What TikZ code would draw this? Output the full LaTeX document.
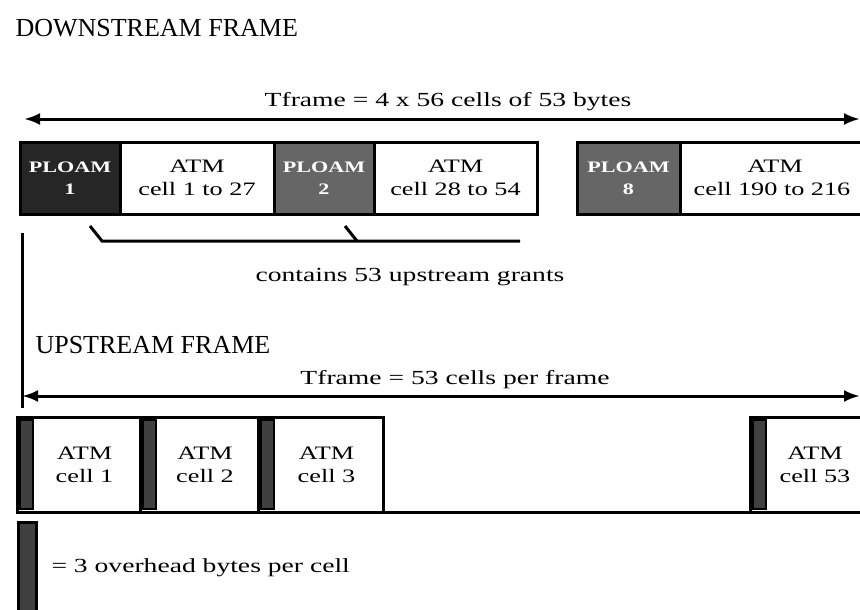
\documentclass[tikz,border=0pt]{standalone}
\usepackage{fontspec}
\setmainfont{Liberation Serif}
\newfontfamily\anchafont[FakeStretch=1.38]{Liberation Serif}
\usetikzlibrary{arrows.meta, positioning}
\tikzset{
  titulo/.style={anchor=west, font=\fontsize{26}{28}\selectfont},
  etiq/.style={font=\anchafont\fontsize{20}{22}\selectfont},
  celda/.style={rectangle, draw=black, line width=3pt, fill=white, outer sep=0pt,
    align=center, inner sep=0pt, font=\anchafont\fontsize{19}{23}\selectfont},
  celdab/.style={celda, minimum height=72pt},
  celdas/.style={celda, minimum height=95pt},
  ploam/.style={celdab, fill=black!60, text=white, minimum width=100pt,
    font=\anchafont\fontsize{16}{22}\selectfont\bfseries},
  barra/.style={rectangle, draw=black, line width=2.5pt, fill=black!75, outer sep=0pt,
    inner sep=0pt, minimum width=13pt, minimum height=89pt},
  flecha/.style={{Latex[length=16pt,width=12pt]}-{Latex[length=16pt,width=12pt]}, line width=3pt},
  linea/.style={line width=3pt}
}
\begin{document}
\begin{tikzpicture}[x=1pt, y=-1pt, node distance=0pt]
  \useasboundingbox (0,0) rectangle (860,610);
  % downstream
  \node[titulo] (dstit) at (12,28) {DOWNSTREAM FRAME};
  \coordinate (dsL) at (24,119);
  \coordinate (dsR) at (860,119);
  \draw[flecha] (dsL) -- (dsR);
  \node[etiq] (dslbl) at (448,102) {Tframe = 4 x 56 cells of 53 bytes};
  \node[ploam, fill=black!85, anchor=north west] (p1) at (20,142) {PLOAM\\1};
  \node[celdab, minimum width=154pt, right=of p1] (c1) {ATM\\cell 1 to 27};
  \node[ploam, right=of c1] (p2) {PLOAM\\2};
  \node[celdab, minimum width=163pt, right=of p2] (c2) {ATM\\cell 28 to 54};
  \node[ploam, minimum width=103pt, anchor=north west] (p8) at (577,142) {PLOAM\\8};
  \node[celdab, minimum width=190pt, right=of p8] (c8) {ATM\\\hspace*{-6pt}cell 190 to 216};
  % grants bracket
  \coordinate (brend) at (520,241);
  \draw[linea] ([xshift=20pt,yshift=-12pt]p1.south) -- ++(12,15) -- (brend);
  \draw[linea] ([xshift=21pt,yshift=-12pt]p2.south) -- ++(12,15);
  \node[etiq] (grants) at (410,277) {contains 53 upstream grants};
  % upstream
  \coordinate (vtop) at (22,233);
  \coordinate (vbot) at (22,408);
  \draw[linea] (vtop) -- (vbot);
  \node[titulo] (ustit) at (32,345) {UPSTREAM FRAME};
  \coordinate (usL) at (22,396);
  \coordinate (usR) at (860,396);
  \draw[flecha] (usL) -- (usR);
  \node[etiq] (uslbl) at (455,380) {Tframe = 53 cells per frame};
  \node[celdas, minimum width=123pt, anchor=north west] (u1) at (17,417) {\hspace*{12pt}ATM\\\hspace*{12pt}cell 1};
  \node[celdas, minimum width=118pt, right=of u1] (u2) {\hspace*{12pt}ATM\\\hspace*{12pt}cell 2};
  \node[celdas, minimum width=125pt, right=of u2] (u3) {\hspace*{12pt}ATM\\\hspace*{12pt}cell 3};
  \node[celdas, minimum width=120pt, anchor=north west] (u53) at (750,417) {\hspace*{10pt}ATM\\\hspace*{10pt}cell 53};
  \draw[linea] (u1.south west) -- (u53.south east);
  \foreach \c in {u1,u2,u3,u53}
    \node[barra, anchor=north west] (b\c) at ([xshift=3pt,yshift=-3pt]\c.north west) {};
  % legend
  \node[barra, minimum width=18pt, minimum height=92pt, line width=3pt, anchor=north west] (leyenda) at (18,522) {};
  \node[etiq, right=12pt of leyenda] (leytxt) {= 3 overhead bytes per cell};
\end{tikzpicture}
\end{document}
